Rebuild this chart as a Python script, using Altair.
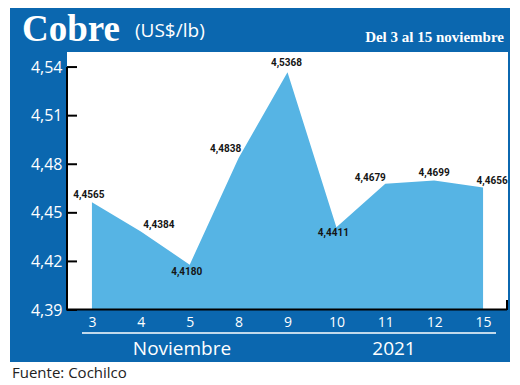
import altair as alt
import pandas as pd

days = ["3", "4", "5", "8", "9", "10", "11", "12", "15"]
prices = [4.4565, 4.4384, 4.4180, 4.4838, 4.5368, 4.4411, 4.4679, 4.4699, 4.4656]
y_ticks = [4.39, 4.42, 4.45, 4.48, 4.51, 4.54]

title_main = "Cobre"
title_unit = "(US$/lb)"
title_period = "Del 3 al 15 noviembre"
month_label = "Noviembre"
year_label = "2021"
source_label = "Fuente: Cochilco"

df = pd.DataFrame({"day": days, "price": prices})
ticks_df = pd.DataFrame({"t": y_ticks})

BLUE = "#0b67af"
AREA = "#56b4e4"
W, H = 441, 258
one = alt.Data(values=[{}])

xscale = alt.Scale(type="point", padding=0.51)
xaxis = alt.Axis(title=None, labelAngle=0, ticks=False, domain=False,
                 labelColor="white", labelFont="Open Sans", labelFontSize=14,
                 labelPadding=5, grid=False, zindex=2)
yaxis = alt.Axis(title=None, values=y_ticks, ticks=False, domain=False, grid=False,
                 labelColor="white", labelFont="Open Sans", labelFontSize=16,
                 labelPadding=5, zindex=2,
                 labelExpr="replace(format(datum.value, '.2f'), '.', ',')")
yscale = alt.Scale(domain=[4.39, 4.5493], zero=False, nice=False)

bg_blue = alt.Chart(one).mark_rect(color=BLUE).encode(
    x=alt.value(-57), x2=alt.value(443), y=alt.value(-44), y2=alt.value(310))
bg_white = alt.Chart(one).mark_rect(color="white").encode(
    x=alt.value(0), x2=alt.value(W), y=alt.value(0), y2=alt.value(H))

area = alt.Chart(df).mark_area(color=AREA, opacity=1).encode(
    x=alt.X("day:O", sort=days, scale=xscale, axis=xaxis),
    y=alt.Y("price:Q", scale=yscale, axis=yaxis),
    y2=alt.datum(4.39))

tick_rules = alt.Chart(ticks_df).mark_rule(color="black", strokeWidth=2).encode(
    y=alt.Y("t:Q", scale=yscale, axis=yaxis), x=alt.value(0), x2=alt.value(10))
y_line = alt.Chart(one).mark_rule(color="black", strokeWidth=2).encode(
    x=alt.value(0), y=alt.value(15), y2=alt.value(H))
x_line = alt.Chart(one).mark_rule(color="black", strokeWidth=2).encode(
    x=alt.value(-1), x2=alt.value(440), y=alt.value(H - 0.5))
x_end = alt.Chart(one).mark_rule(color="black", strokeWidth=2).encode(
    x=alt.value(440), y=alt.value(H - 10), y2=alt.value(H))

offsets = {"3": (-3, -7), "4": (18, -7), "5": (-3, 7), "8": (-13, -9), "9": (-1, -9),
           "10": (-3, 6), "11": (-15, -6), "12": (0, -8), "15": (9, -7)}
label_layers = []
for d in days:
    dx, dy = offsets[d]
    label_layers.append(
        alt.Chart(df).transform_filter(alt.datum.day == d).transform_calculate(
            lab="replace(format(datum.price, '.4f'), '.', ',')"
        ).mark_text(font="Roboto", fontWeight="bold", fontSize=10,
                    color="#151515", dx=dx, dy=dy, baseline="middle", align="center").encode(
            x=alt.X("day:O", sort=days, scale=xscale, axis=xaxis),
            y=alt.Y("price:Q", scale=yscale, axis=yaxis),
            text="lab:N"))

def txt(s, x, y, **kw):
    return alt.Chart(one).mark_text(**kw).encode(
        x=alt.value(x), y=alt.value(y), text=alt.value(s))

t_main = txt(title_main, -45, -11, font="Liberation Serif", fontWeight="bold", fontSize=37,
             color="white", align="left", baseline="alphabetic")
t_unit = txt(title_unit, 68, -15, font="Open Sans", fontSize=19, color="white",
             align="left", baseline="alphabetic")
t_period = txt(title_period, 437, -10, font="Liberation Serif", fontWeight="bold", fontSize=15,
               color="white", align="right", baseline="alphabetic")
sep = alt.Chart(one).mark_rule(color="white", strokeWidth=1.5).encode(
    x=alt.value(15), x2=alt.value(429), y=alt.value(281))
t_month = txt(month_label, 115, 303, font="Open Sans", fontSize=19, color="white",
              align="center", baseline="alphabetic")
t_year = txt(year_label, 327, 303, font="Open Sans", fontSize=19, color="white",
             align="center", baseline="alphabetic")
t_source = txt(source_label, -55, 326, font="Open Sans", fontSize=15, color="#222222",
               align="left", baseline="alphabetic")

chart = alt.layer(
    bg_blue, bg_white, area, tick_rules, y_line, x_line, x_end, *label_layers,
    t_main, t_unit, t_period, sep, t_month, t_year, t_source
).properties(
    width=W, height=H,
    autosize=alt.AutoSizeParams(type="none"),
    padding={"left": 59, "top": 44, "right": 4, "bottom": 75},
    background="white"
).configure_view(stroke=None)

chart.save("out.html", embed_options={"renderer": "svg", "actions": False})
